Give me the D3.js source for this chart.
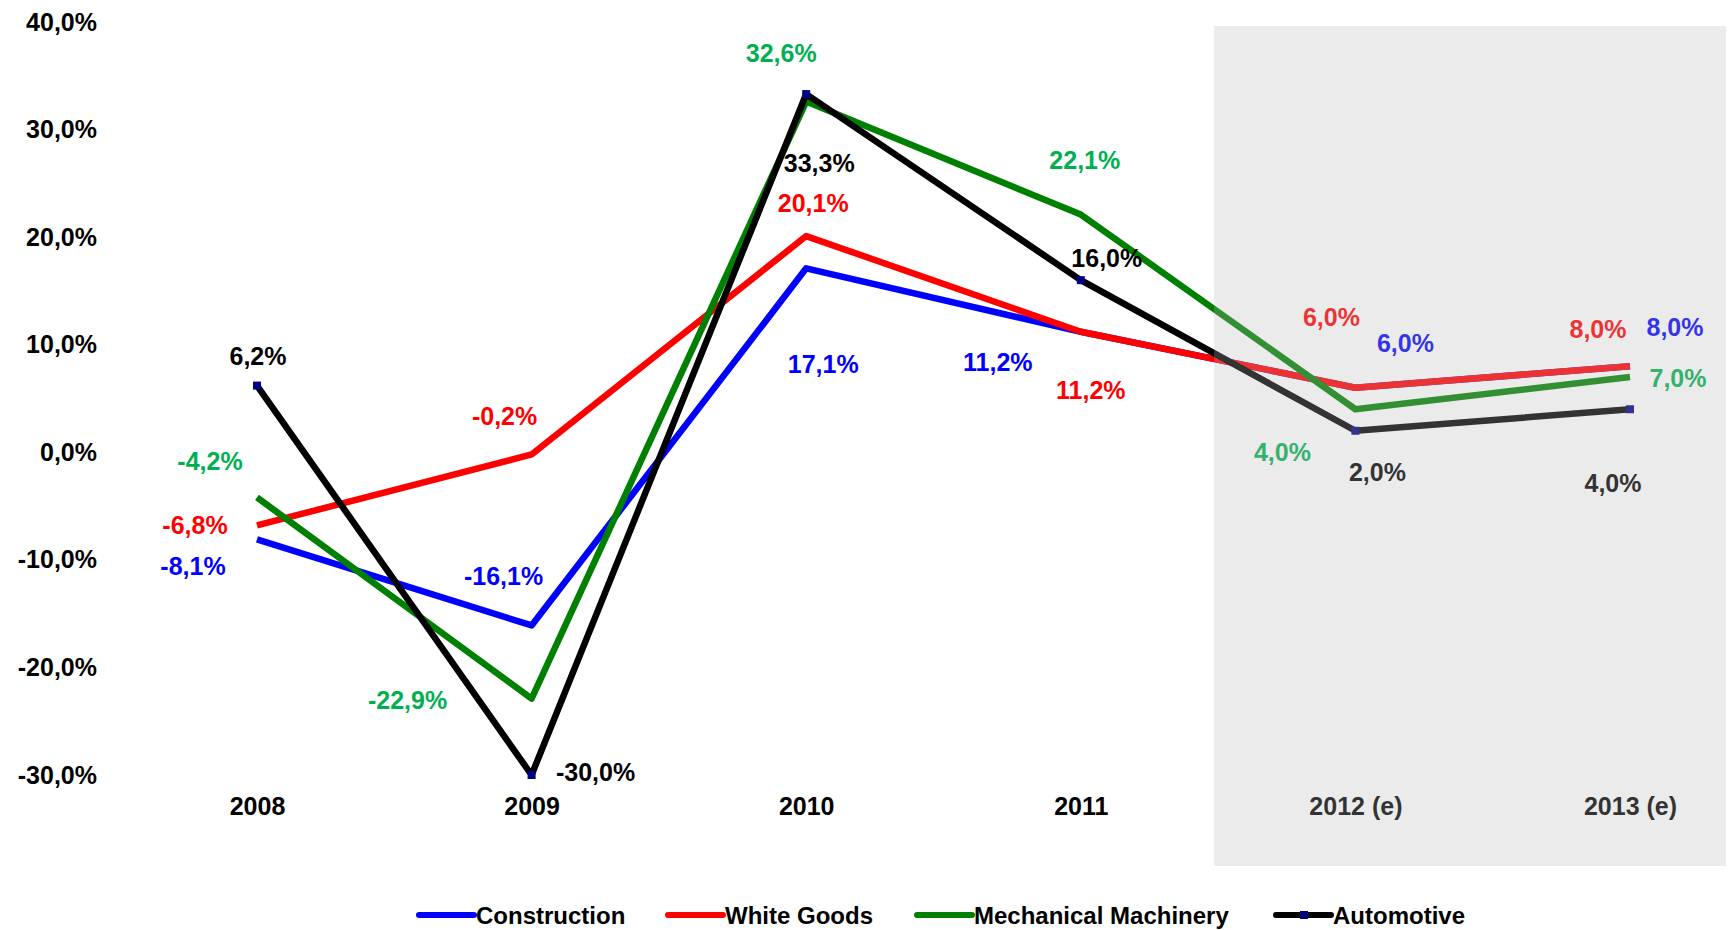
<!DOCTYPE html>
<html>
<head>
<meta charset="utf-8">
<script src="https://cdn.jsdelivr.net/npm/d3@7"></script>
<style>
  body { margin: 0; background: #fff; }
  svg text { font-family: "Liberation Sans", Arial, sans-serif; font-weight: bold; }
</style>
</head>
<body>
<div id="chart"></div>
<script>
// data
const years = ['2008', '2009', '2010', '2011', '2012 (e)', '2013 (e)'];
const construction = [-8.1, -16.1, 17.1, 11.2, 6.0, 8.0];
const whiteGoods = [-6.8, -0.2, 20.1, 11.2, 6.0, 8.0];
const mechMachinery = [-4.2, -22.9, 32.6, 22.1, 4.0, 7.0];
const automotive = [6.2, -30.0, 33.3, 16.0, 2.0, 4.0];
const seriesNames = ['Construction', 'White Goods', 'Mechanical Machinery', 'Automotive'];
const yTicks = [-30, -20, -10, 0, 10, 20, 30, 40];

// label nudges (px), one per point, so labels sit where the original has them
const labelShift = [
  [[-64, 27], [-28, -49], [17, 96], [-83, 30], [50, -45], [45, -39]],
  [[-62, 0], [-27, -38], [7, -33], [10, 58], [-24, -71], [-32, -37]],
  [[-47, -36], [-124, 1], [-25, -49], [4, -55], [-73, 43], [48, 1]],
  [[1, -30], [64, -3], [13, 69], [26, -22], [22, 41], [-17, 74]]
];

const lineColors = ['#0000ff', '#ff0000', '#008000', '#000000'];
const labelColors = ['#0000ff', '#ff0000', '#00b050', '#000000'];

const series = [construction, whiteGoods, mechMachinery, automotive].map((vals, i) => ({
  name: seriesNames[i],
  values: vals,
  idx: i
}));

const W = 1729, H = 930;
const svg = d3.select('#chart').append('svg')
  .attr('width', W)
  .attr('height', H);

const x = d3.scalePoint().domain(years).range([257, 1630]);
const y = d3.scaleLinear().domain([-30, 40]).range([775, 22]);

// comma decimals and a plain hyphen for minus, like the original
const locale = d3.formatLocale({ decimal: ',', thousands: '.', grouping: [3], currency: ['', '€'], minus: '-' });
const fmt = v => locale.format('.1f')(v) + '%';

// y axis, labels only
const yAxis = svg.append('g')
  .attr('transform', 'translate(97,0)')
  .call(d3.axisLeft(y).tickValues(yTicks).tickSize(0).tickPadding(0).tickFormat(fmt));
yAxis.select('.domain').remove();
yAxis.selectAll('text')
  .style('font-size', '25px')
  .attr('fill', '#000');

// x axis, labels only
const xAxis = svg.append('g')
  .attr('transform', 'translate(0,775)')
  .call(d3.axisBottom(x).tickSize(0).tickPadding(22));
xAxis.select('.domain').remove();
xAxis.selectAll('text')
  .style('font-size', '25px')
  .attr('fill', '#000');

const line = d3.line()
  .x((d, i) => x(years[i]))
  .y(d => y(d));

svg.selectAll('path.series')
  .data(series)
  .join('path')
  .attr('class', 'series')
  .attr('d', d => line(d.values))
  .attr('fill', 'none')
  .attr('stroke', d => lineColors[d.idx])
  .attr('stroke-width', 6.5)
  .attr('stroke-linejoin', 'round');

// small navy markers on Automotive
svg.selectAll('rect.marker')
  .data(automotive)
  .join('rect')
  .attr('class', 'marker')
  .attr('x', (d, i) => x(years[i]) - 4)
  .attr('y', d => y(d) - 4)
  .attr('width', 8)
  .attr('height', 8)
  .attr('fill', '#000080');

// data labels
series.forEach(s => {
  svg.append('g')
    .selectAll('text')
    .data(s.values)
    .join('text')
    .attr('x', (d, i) => x(years[i]) + labelShift[s.idx][i][0])
    .attr('y', (d, i) => y(d) + labelShift[s.idx][i][1])
    .attr('text-anchor', 'middle')
    .attr('dominant-baseline', 'central')
    .style('font-size', '25px')
    .attr('fill', labelColors[s.idx])
    .text(fmt);
});

// forecast shading drawn on top, semi transparent
const split = (x(years[3]) + x(years[4])) / 2;
svg.append('rect')
  .attr('x', split - 4)
  .attr('y', 26)
  .attr('width', 1726 - split + 4)
  .attr('height', 840)
  .attr('fill', '#b7b7b7')
  .attr('opacity', 0.28);

// legend
const legendX = [419, 668, 917, 1276];
const legend = svg.append('g').attr('transform', 'translate(0,915)');
const items = legend.selectAll('g')
  .data(series)
  .join('g')
  .attr('transform', d => `translate(${legendX[d.idx]},0)`);
items.append('line')
  .attr('x1', 0).attr('x2', 55)
  .attr('stroke', d => lineColors[d.idx])
  .attr('stroke-width', 6)
  .attr('stroke-linecap', 'round');
items.filter(d => d.idx === 3).append('rect')
  .attr('x', 24).attr('y', -4).attr('width', 8).attr('height', 8)
  .attr('fill', '#000080');
items.append('text')
  .attr('x', 57)
  .attr('dominant-baseline', 'central')
  .style('font-size', '24px')
  .attr('fill', '#000')
  .text(d => d.name);
</script>
</body>
</html>
